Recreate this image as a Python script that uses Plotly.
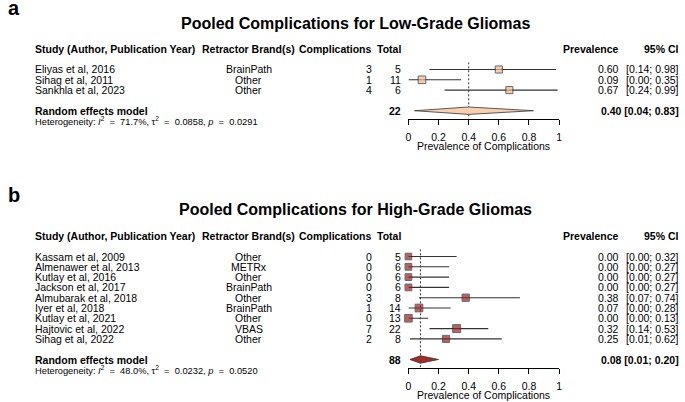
import plotly.graph_objects as go

W, H = 685, 402
FONT = "Liberation Sans, Arial, Helvetica, sans-serif"
NB = "\u00a0"

# ---------------- data: panel a ----------------
a_title = "Pooled Complications for Low-Grade Gliomas"
a_studies = ["Eliyas et al, 2016", "Sihag et al, 2011", "Sankhla et al, 2023"]
a_brands = ["BrainPath", "Other", "Other"]
a_events = [3, 1, 4]
a_totals = [5, 11, 6]
a_prev = [0.60, 0.09, 0.67]
a_lo = [0.14, 0.00, 0.24]
a_hi = [0.98, 0.35, 0.99]
a_weights = [32.0, 36.5, 31.5]
a_pooled = [0.40, 0.04, 0.83]
a_pooled_n = 22
a_het_vals = ["71.7%", "0.0858", "0.0291"]

# ---------------- data: panel b ----------------
b_title = "Pooled Complications for High-Grade Gliomas"
b_studies = ["Kassam et al, 2009", "Almenawer et al, 2013", "Kutlay et al, 2016",
             "Jackson et al, 2017", "Almubarak et al, 2018", "Iyer et al, 2018",
             "Kutlay et al, 2021", "Hajtovic et al, 2022", "Sihag et al, 2022"]
b_brands = ["Other", "METRx", "Other", "BrainPath", "Other", "BrainPath",
            "Other", "VBAS", "Other"]
b_events = [0, 0, 0, 0, 3, 1, 0, 7, 2]
b_totals = [5, 6, 6, 6, 8, 14, 13, 22, 8]
b_prev = [0.00, 0.00, 0.00, 0.00, 0.38, 0.07, 0.00, 0.32, 0.25]
b_lo = [0.00, 0.00, 0.00, 0.00, 0.07, 0.00, 0.00, 0.14, 0.01]
b_hi = [0.32, 0.27, 0.27, 0.27, 0.74, 0.28, 0.13, 0.53, 0.62]
b_weights = [9.5, 10.0, 10.0, 10.0, 11.5, 13.0, 12.5, 14.0, 11.0]
b_pooled = [0.08, 0.01, 0.20]
b_pooled_n = 88
b_het_vals = ["48.0%", "0.0232", "0.0520"]

tick_vals = [0, 0.2, 0.4, 0.6, 0.8, 1]
tick_text = ["0", "0.2", "0.4", "0.6", "0.8", "1"]
headers = ["Study (Author, Publication Year)", "Retractor Brand(s)", "Complications",
           "Total", "Prevalence", "95% CI"]
xlabel = "Prevalence of Complications"


def het_text(vals):
    eq = NB + " = " + NB
    return ("Heterogeneity: <i>I</i><sup>2</sup>" + eq + vals[0] + ", τ<sup>2</sup>" + eq
            + vals[1] + ", <i>p</i>" + eq + vals[2])


panels = [
    dict(tag="a", title=a_title, studies=a_studies, brands=a_brands, events=a_events,
         totals=a_totals, prev=a_prev, lo=a_lo, hi=a_hi, w=a_weights, pooled=a_pooled,
         n=a_pooled_n, het=het_text(a_het_vals), fill="#F1B98F", dfill="#F8D0B0",
         dy=0, maxsize=7.6),
    dict(tag="b", title=b_title, studies=b_studies, brands=b_brands, events=b_events,
         totals=b_totals, prev=b_prev, lo=b_lo, hi=b_hi, w=b_weights, pooled=b_pooled,
         n=b_pooled_n, het=het_text(b_het_vals), fill="#9B2222", dfill="#A52A2A",
         dy=187, maxsize=8.0),
]

ROW1 = 69.5
STEP = 10.3
FS = 10.5
X0, X1 = 409, 561


def py(px):
    return 1 - px / H


def pxx(px):
    return px / W


fig = go.Figure()
annotations = []
layout_axes = {}

for i, p in enumerate(panels):
    k = "" if i == 0 else str(i + 1)
    xa, ya = "x" + k, "y" + k
    nrow = len(p["studies"])
    r1 = ROW1 + p["dy"]
    srow = nrow + 2
    s_px = r1 + (srow - 1) * STEP
    axis_px = s_px + 8
    top_row = 0.3
    top_px = r1 + (top_row - 1) * STEP
    bot_row = srow + (axis_px - s_px) / STEP

    layout_axes["xaxis" + k] = dict(
        domain=[pxx(X0), pxx(X1)], range=[0, 1], anchor=ya, showgrid=False, zeroline=False,
        showline=True, linecolor="#000", linewidth=1, ticks="outside", ticklen=5,
        tickwidth=1, tickcolor="#000", tickvals=tick_vals, ticktext=tick_text,
        tickfont=dict(size=FS, color="#000", family=FONT), ticklabelstandoff=4,
        fixedrange=True)
    layout_axes["yaxis" + k] = dict(
        domain=[py(axis_px), py(top_px)], range=[bot_row, top_row], anchor=xa,
        visible=False, showgrid=False, zeroline=False, fixedrange=True)

    rows = list(range(1, nrow + 1))
    wmax = max(p["w"])
    sizes = [p["maxsize"] * (w / wmax) ** 0.5 for w in p["w"]]

    # reference (pooled) line
    fig.add_trace(go.Scatter(x=[p["pooled"][0], p["pooled"][0]], y=[top_row, bot_row],
                             mode="lines", line=dict(color="#333", width=1, dash="2px,2px"),
                             xaxis=xa, yaxis=ya, hoverinfo="skip", showlegend=False))
    # study CIs and squares
    fig.add_trace(go.Scatter(
        x=p["prev"], y=rows, mode="markers", xaxis=xa, yaxis=ya, cliponaxis=False,
        marker=dict(symbol="square", size=sizes, color=p["fill"],
                    line=dict(color="#2a2a2a", width=1)),
        error_x=dict(type="data", symmetric=False,
                     array=[h - v for h, v in zip(p["hi"], p["prev"])],
                     arrayminus=[v - l for v, l in zip(p["prev"], p["lo"])],
                     color="#333", thickness=1.1, width=0),
        showlegend=False, hoverinfo="skip"))
    # diamond
    est, lo, hi = p["pooled"]
    hh = 0.36
    fig.add_trace(go.Scatter(x=[lo, est, hi, est, lo], y=[srow, srow - hh, srow, srow + hh, srow],
                             mode="lines", fill="toself", fillcolor=p["dfill"],
                             line=dict(color="#333", width=0.8), xaxis=xa, yaxis=ya,
                             showlegend=False, hoverinfo="skip"))

    def ann(text, xpx, y, anchor, size=FS, yref=ya, bold=False, yanchor="middle"):
        annotations.append(dict(
            text=("<b>%s</b>" % text) if bold else text, x=pxx(xpx), xref="paper",
            y=y, yref=yref, xanchor=anchor, yanchor=yanchor, showarrow=False,
            font=dict(size=size, color="#000", family=FONT)))

    # panel letter and title
    ann(p["tag"], 3, py(8 + p["dy"]), "left", size=20, yref="paper", bold=True)
    ann(p["title"], 356, py(23 + p["dy"]), "center", size=16, yref="paper", bold=True)
    # headers
    hy = py(49 + p["dy"])
    ann(headers[0], 30, hy, "left", yref="paper", bold=True)
    ann(headers[1], 248, hy, "center", yref="paper", bold=True)
    ann(headers[2], 374, hy, "right", yref="paper", bold=True)
    ann(headers[3], 404, hy, "right", yref="paper", bold=True)
    ann(headers[4], 623, hy, "right", yref="paper", bold=True)
    ann(headers[5], 684, hy, "right", yref="paper", bold=True)
    # rows
    for r, s, b, e, t, v, l, h in zip(rows, p["studies"], p["brands"], p["events"],
                                      p["totals"], p["prev"], p["lo"], p["hi"]):
        ann(s, 30, r, "left")
        ann(b, 248, r, "center")
        ann(str(e), 374, r, "right")
        ann(str(t), 404, r, "right")
        ann("%.2f" % v, 623, r, "right")
        ann("[%.2f; %.2f]" % (l, h), 684, r, "right")
    # summary row
    ann("Random effects model", 30, srow, "left", bold=True)
    ann(str(p["n"]), 404, srow, "right", bold=True)
    ann("%.2f [%.2f; %.2f]" % (est, lo, hi), 684, srow, "right", bold=True)
    ann(p["het"], 30, py(s_px + 10.5), "left", size=9.3, yref="paper")
    # x label
    ann(xlabel, (X0 + X1) / 2, py(axis_px + 27), "center", yref="paper")

fig.update_layout(
    width=W, height=H, margin=dict(l=0, r=0, t=0, b=0),
    paper_bgcolor="white", plot_bgcolor="white", showlegend=False,
    font=dict(family=FONT, color="#000"), annotations=annotations, **layout_axes)

fig.write_html("out.html")
